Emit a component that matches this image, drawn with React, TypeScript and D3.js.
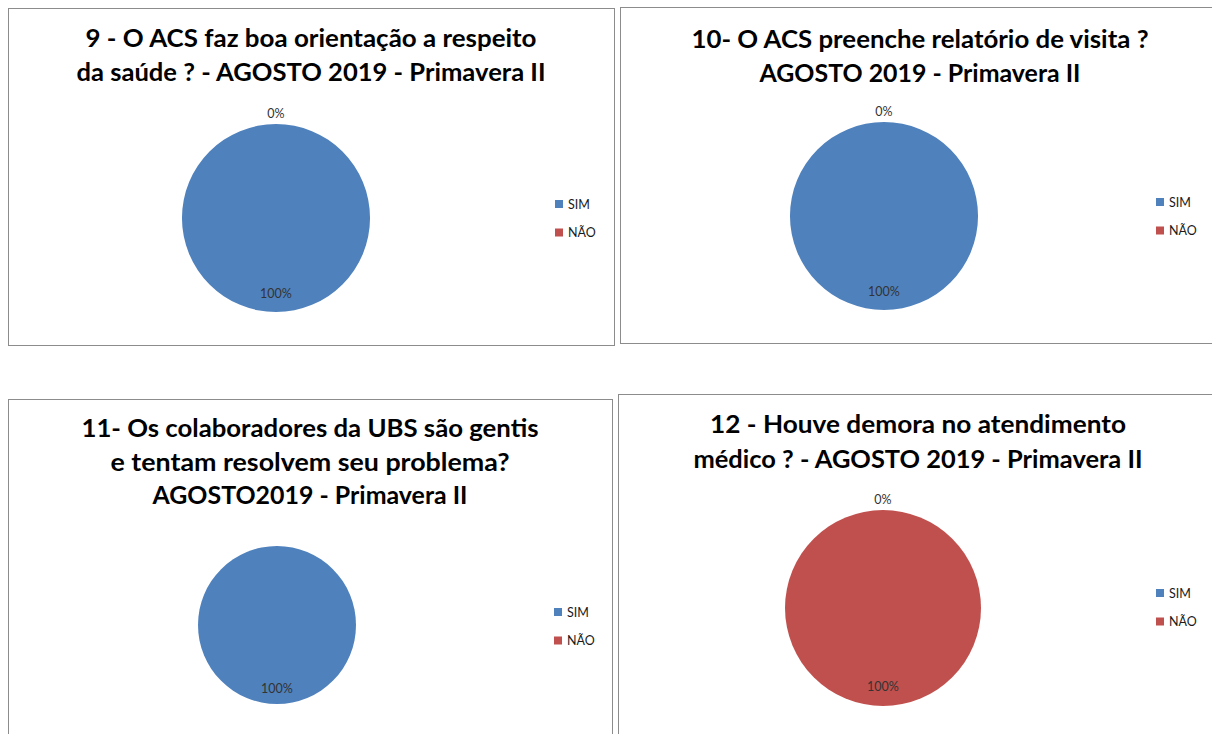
import { useEffect, useRef } from "react";
import * as d3 from "d3";

// Data
const categories = ["SIM", "NÃO"];
const colors = ["#4F81BD", "#C0504D"];

const titles: string[][] = [
  ["9 - O ACS faz boa orientação a respeito", "da saúde ? - AGOSTO 2019 - Primavera II"],
  ["10- O ACS preenche relatório de visita ?", "AGOSTO 2019 - Primavera II"],
  [
    "11- Os colaboradores da UBS são gentis",
    "e tentam resolvem seu problema?",
    "AGOSTO2019 - Primavera II",
  ],
  ["12 - Houve demora no atendimento", "médico ? - AGOSTO 2019 - Primavera II"],
];

const values: number[][] = [
  [100, 0],
  [100, 0],
  [100, 0],
  [0, 100],
];

const showZeroLabel = [true, true, false, true];

// Layout (pixels)
const panels = [
  { x: 8, y: 8, w: 606, h: 337, cx: 276, cy: 218, r: 94, titleY: 47, lineH: 34, legendX: 555, legendY: 200, titleW: [451, 469] },
  { x: 620, y: 7, w: 600, h: 336, cx: 884, cy: 216, r: 94, titleY: 48, lineH: 34, legendX: 1156, legendY: 198, titleW: [457, 321] },
  { x: 8, y: 399, w: 604, h: 400, cx: 277, cy: 625, r: 79, titleY: 437, lineH: 33.5, legendX: 554, legendY: 608, titleW: [457, 399, 315] },
  { x: 618, y: 394, w: 600, h: 400, cx: 883, cy: 608, r: 98, titleY: 433, lineH: 34.5, legendX: 1156, legendY: 589, titleW: [416, 449] },
];

export default function App() {
  const svgRef = useRef<SVGSVGElement>(null);

  useEffect(() => {
    if (!svgRef.current) return;
    const svg = d3.select(svgRef.current);
    svg.selectAll("*").remove();

    const pie = d3.pie<number>().sort(null).value((d) => d);
    const color = d3.scaleOrdinal<string, string>().domain(categories).range(colors);

    panels.forEach((p, i) => {
      const g = svg.append("g");

      g.append("rect")
        .attr("x", p.x + 0.5)
        .attr("y", p.y + 0.5)
        .attr("width", p.w)
        .attr("height", p.h)
        .attr("fill", "#fff")
        .attr("stroke", "#8c8c8c")
        .attr("stroke-width", 1);

      // Title
      const tx = p.x + p.w / 2;
      titles[i].forEach((line, j) => {
        g.append("text")
          .attr("x", tx)
          .attr("y", p.titleY + j * p.lineH)
          .attr("text-anchor", "middle")
          .attr("font-family", "Lato, 'Open Sans', sans-serif")
          .attr("font-weight", "bold")
          .attr("font-size", "25px")
          .attr("fill", "#000")
          .attr("textLength", p.titleW[j])
          .attr("lengthAdjust", "spacingAndGlyphs")
          .text(line);
      });

      // Pie
      const arcs = pie(values[i]);
      const arc = d3.arc<d3.PieArcDatum<number>>().innerRadius(0).outerRadius(p.r);
      const pg = g.append("g").attr("transform", `translate(${p.cx},${p.cy})`);

      pg.selectAll("path")
        .data(arcs)
        .join("path")
        .attr("d", arc)
        .attr("fill", (_, k) => color(categories[k]));

      const inner = d3.arc<d3.PieArcDatum<number>>().innerRadius(p.r * 0.8).outerRadius(p.r * 0.8);
      const outer = d3.arc<d3.PieArcDatum<number>>().innerRadius(p.r + 10).outerRadius(p.r + 10);

      arcs.forEach((a) => {
        const isZero = a.value === 0;
        if (isZero && !showZeroLabel[i]) return;
        const [lx, ly] = isZero ? outer.centroid(a) : inner.centroid(a);
        pg.append("text")
          .attr("x", lx)
          .attr("y", ly)
          .attr("dy", "0.35em")
          .attr("text-anchor", "middle")
          .attr("font-family", "Lato, 'Open Sans', sans-serif")
          .attr("font-size", "12.5px")
          .attr("fill", "#333")
          .text(d3.format(".0%")(a.value / d3.sum(values[i])));
      });

      // Legend
      categories.forEach((c, k) => {
        const ly = p.legendY + k * 28.5;
        g.append("rect")
          .attr("x", p.legendX)
          .attr("y", ly)
          .attr("width", 8)
          .attr("height", 8)
          .attr("fill", color(c));
        g.append("text")
          .attr("x", p.legendX + 13)
          .attr("y", ly + 8.5)
          .attr("font-family", "Lato, 'Open Sans', sans-serif")
          .attr("font-size", "12.5px")
          .attr("fill", "#1a1a1a")
          .text(c);
      });
    });
  }, []);

  return (
    <svg
      ref={svgRef}
      width={1212}
      height={734}
      style={{ position: "absolute", left: 0, top: 0, background: "#fff" }}
    />
  );
}
